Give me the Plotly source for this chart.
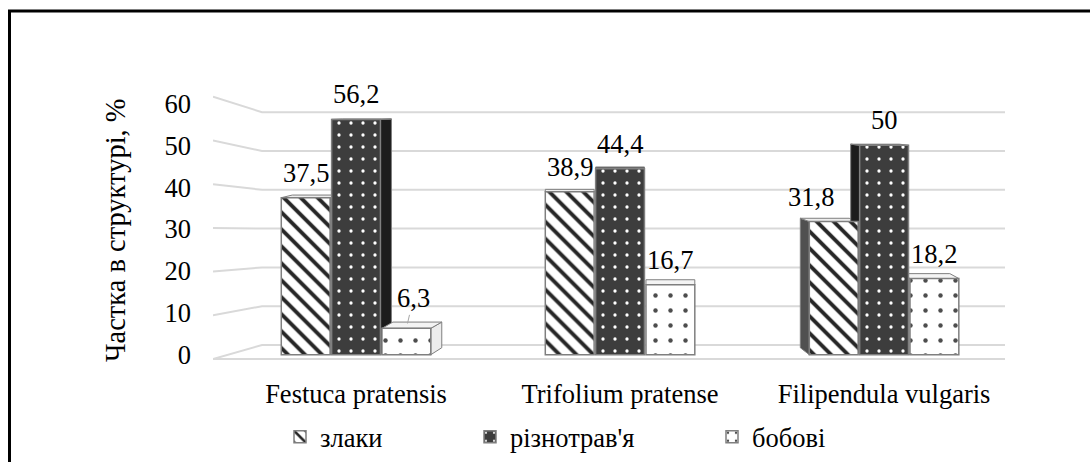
import plotly.graph_objects as go

# ---- data -------------------------------------------------------------
categories = ["Festuca pratensis", "Trifolium pratense", "Filipendula vulgaris"]
series_names = ["злаки", "різнотрав'я", "бобові"]
zlaky = [37.5, 38.9, 31.8]
riznotravia = [56.2, 44.4, 50]
bobovi = [6.3, 16.7, 18.2]
y_ticks = [0, 10, 20, 30, 40, 50, 60]
y_title = "Частка в структурі, %"

# ---- layout geometry ----------------------------------------------------
W, H = 1090, 462
ML, MR, MT, MB = 213, 85, 93, 101
PW, PH = W - ML - MR, H - MT - MB
x_range = [-0.5417, 2.458]
y_range = [-1.5, 62.5]
BARGAP, GROUPGAP = 0.428, 0.03

FONT = "Times New Roman"
FS = 26.5
FS_TITLE = 28.5

ppu_x = PW / (x_range[1] - x_range[0])
ppu_y = PH / (y_range[1] - y_range[0])
y0_px = H - MB - (0 - y_range[0]) * ppu_y


def px_to_x(p):
    return x_range[0] + (p - ML) / ppu_x


def px_to_y(p):
    return (y0_px - p) / ppu_y


def paper_x(p):
    return (p - ML) / PW


def paper_y(p):
    return (H - MB - p) / PH


fig = go.Figure()

x_idx = list(range(len(categories)))
styles = [
    dict(shape="\\", fgcolor="#262626", bgcolor="white", size=12, solidity=0.32,
         fgopacity=1),
    dict(shape=".", fgcolor="white", bgcolor="#3d3d3d", size=12, solidity=0.06,
         fgopacity=1),
    dict(shape=".", fgcolor="#4d4d4d", bgcolor="white", size=15, solidity=0.07,
         fgopacity=1),
]
# depth faces of the 3-D columns: (side colour, top colour)
face_colors = [("#505050", "#ededed"), ("#1c1c1c", "#555555"), ("#ececec", "#f4f4f4")]
# horizontal depth offset per category, px (perspective)
depth_dx = [11, 0, -9]
legend_ids = ["legend", "legend2", "legend3"]
all_values = [zlaky, riznotravia, bobovi]

for name, vals, pat, lg in zip(series_names, all_values, styles, legend_ids):
    fig.add_trace(go.Bar(
        x=x_idx, y=vals, name=name, legend=lg, showlegend=True,
        marker=dict(color=pat["bgcolor"], pattern=pat,
                    line=dict(color="#7f7f7f", width=1.5)),
    ))

shapes = []

# ---- back wall gridlines (drawn with a slight perspective bend) -------
bend_x = px_to_x(262)
for v in y_ticks:
    y_left = px_to_y(359 - 4.37 * v)
    y_wall = px_to_y(345 - 3.88 * v)
    shapes.append(dict(
        type="path", xref="x", yref="y", layer="below",
        path=f"M {x_range[0]},{y_left} L {bend_x},{y_wall} L {x_range[1]},{y_wall}",
        line=dict(color="#d9d9d9", width=2)))
floor_y = px_to_y(359)
shapes.append(dict(type="line", xref="x", yref="y", layer="below",
                   x0=x_range[0], x1=x_range[1], y0=floor_y, y1=floor_y,
                   line=dict(color="#d9d9d9", width=2)))

# ---- side and top faces of the columns --------------------------------
slot = (1 - BARGAP) / len(series_names)
half_w = slot * (1 - GROUPGAP) / 2


def rise(v):
    # how far (in px) the back edge sits above the front edge at height v
    return 7.0 * (1 - v / 60.0)


for si, vals in enumerate(all_values):
    side_c, top_c = face_colors[si]
    for ci, v in enumerate(vals):
        xc = ci + (si - 1) * slot
        xl, xr = xc - half_w, xc + half_w
        ddx = depth_dx[ci] / ppu_x
        r_top = rise(v) / ppu_y
        r_bot = rise(0) / ppu_y
        if depth_dx[ci] != 0:
            xe = xr if depth_dx[ci] > 0 else xl
            shapes.append(dict(
                type="path", xref="x", yref="y", layer="below",
                path=(f"M {xe},0 L {xe + ddx},{r_bot} L {xe + ddx},{v + r_top} "
                      f"L {xe},{v} Z"),
                fillcolor=side_c, line=dict(color="#7f7f7f", width=1)))
        shapes.append(dict(
            type="path", xref="x", yref="y", layer="below",
            path=(f"M {xl},{v} L {xl + ddx},{v + r_top} L {xr + ddx},{v + r_top} "
                  f"L {xr},{v} Z"),
            fillcolor=top_c, line=dict(color="#7f7f7f", width=1)))

# ---- value labels -----------------------------------------------------
annotations = []
for si, vals in enumerate(all_values):
    for ci, v in enumerate(vals):
        txt = f"{v:g}".replace(".", ",")
        xa = ci + (si - 1) * slot
        ann = dict(x=xa, y=v, xref="x", yref="y", text=txt, showarrow=False,
                   yanchor="middle", yshift=25,
                   font=dict(family=FONT, size=FS, color="black"))
        if si == 2 and ci == 0:
            # small column: label lifted with a leader line
            ann.update(showarrow=True, arrowhead=0, arrowwidth=1,
                       arrowcolor="#a6a6a6", ax=7, ay=-30, standoff=5,
                       yshift=0)
        if si == 0 and ci == 2:
            ann.update(xshift=-23)
        annotations.append(ann)

# axis title
annotations.append(dict(
    x=paper_x(115), y=paper_y(230), xref="paper", yref="paper",
    text=y_title, textangle=-90, showarrow=False,
    xanchor="center", yanchor="middle",
    font=dict(family=FONT, size=FS_TITLE, color="black")))

# outer frame (left and top edges)
shapes.append(dict(type="line", xref="paper", yref="paper",
                   x0=paper_x(9.5), x1=paper_x(9.5), y0=paper_y(10), y1=paper_y(H + 5),
                   line=dict(color="black", width=3)))
shapes.append(dict(type="line", xref="paper", yref="paper",
                   x0=paper_x(8), x1=paper_x(W + 5), y0=paper_y(11), y1=paper_y(11),
                   line=dict(color="black", width=3)))

legend_common = dict(orientation="h", xanchor="left", yanchor="middle",
                     font=dict(family=FONT, size=FS, color="black"),
                     bgcolor="rgba(0,0,0,0)", itemclick=False)
legend_y = paper_y(437)

fig.update_layout(
    width=W, height=H,
    showlegend=True,
    margin=dict(l=ML, r=MR, t=MT, b=MB, autoexpand=False),
    paper_bgcolor="white", plot_bgcolor="white",
    barmode="group", bargap=BARGAP, bargroupgap=GROUPGAP,
    font=dict(family=FONT, size=FS, color="black"),
    xaxis=dict(range=x_range, tickvals=x_idx, ticktext=categories,
               showgrid=False, zeroline=False, showline=False,
               ticks="", ticklabelstandoff=14,
               tickfont=dict(family=FONT, size=FS, color="black")),
    yaxis=dict(range=y_range, tickvals=y_ticks,
               ticktext=[str(t) for t in y_ticks],
               showgrid=False, zeroline=False, showline=False,
               ticks="", ticklabelstandoff=21,
               tickfont=dict(family=FONT, size=FS, color="black")),
    legend=dict(x=paper_x(280), y=legend_y, **legend_common),
    legend2=dict(x=paper_x(470), y=legend_y, **legend_common),
    legend3=dict(x=paper_x(712), y=legend_y, **legend_common),
    annotations=annotations,
    shapes=shapes,
)

fig.write_html("out.html")
